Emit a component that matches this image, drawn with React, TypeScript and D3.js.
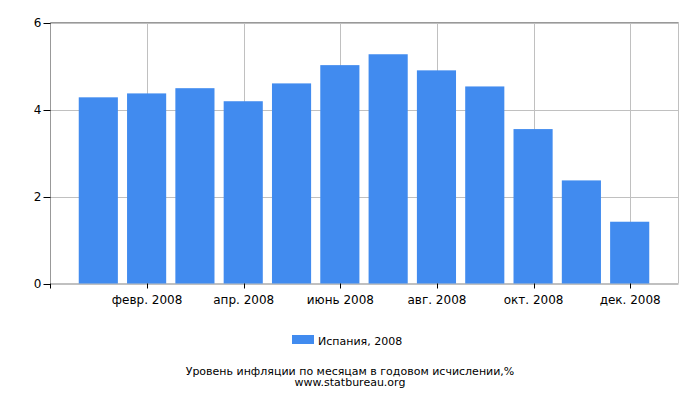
import React from "react";
import * as d3 from "d3";

const months = ["янв. 2008", "февр. 2008", "март 2008", "апр. 2008", "май 2008", "июнь 2008", "июль 2008", "авг. 2008", "сент. 2008", "окт. 2008", "нояб. 2008", "дек. 2008"];
const values = [4.28, 4.37, 4.49, 4.19, 4.6, 5.02, 5.27, 4.9, 4.53, 3.55, 2.37, 1.42];
const yTicks = [0, 2, 4, 6];
const labeledMonths = [1, 3, 5, 7, 9, 11];
const seriesName = "Испания, 2008";
const title = "Уровень инфляции по месяцам в годовом исчислении,%";
const source = "www.statbureau.org";

const W = 700, H = 400;
const left = 50.5, right = 678.5, top = 22.5, bottom = 283.5;
const font = "DejaVu Sans, sans-serif";

export default function App() {
  const x = d3.scaleLinear().domain([-1, 12]).range([left, right]);
  const y = d3.scaleLinear().domain([0, 6]).range([bottom, top]);
  const step = x(1) - x(0);
  const bw = step * 0.81;
  return (
    <svg width={W} height={H} style={{ position: "absolute", left: 0, top: 0 }}>
      <rect x={0} y={0} width={W} height={H} fill="#fff" />
      {yTicks.map((t) => (
        <line key={"gy" + t} x1={left} x2={right} y1={Math.round(y(t)) + 0.5} y2={Math.round(y(t)) + 0.5} stroke="#c0c0c0" strokeWidth={1} />
      ))}
      {labeledMonths.map((i) => (
        <line key={"gx" + i} x1={Math.round(x(i)) + 0.5} x2={Math.round(x(i)) + 0.5} y1={top} y2={bottom} stroke="#c0c0c0" strokeWidth={1} />
      ))}
      <line x1={right} x2={right} y1={top} y2={bottom} stroke="#c0c0c0" />
      <line x1={left} x2={right} y1={bottom} y2={bottom} stroke="#c0c0c0" />
      <line x1={left} x2={right} y1={top} y2={top} stroke="#999" />
      {values.map((v, i) => (
        <rect key={i} x={x(i) - bw / 2 - 0.5} y={y(v)} width={bw} height={y(0) - y(v)} fill="#418bef" />
      ))}
      <line x1={left} x2={left} y1={top} y2={bottom} stroke="#999" />
      {yTicks.map((t) => (
        <g key={"ty" + t}>
          <line x1={left - 7} x2={left} y1={Math.round(y(t)) + 0.5} y2={Math.round(y(t)) + 0.5} stroke="#000" />
          <text x={left - 9} y={y(t) + 4.5} textAnchor="end" fontFamily={font} fontSize={12} fill="#000">{t}</text>
        </g>
      ))}
      <line x1={left} x2={left} y1={bottom} y2={bottom + 5} stroke="#000" />
      {labeledMonths.map((i) => (
        <g key={"tx" + i}>
          <line x1={Math.round(x(i)) + 0.5} x2={Math.round(x(i)) + 0.5} y1={bottom} y2={bottom + 5} stroke="#000" />
          <text x={x(i)} y={304} textAnchor="middle" fontFamily={font} fontSize={12} fill="#000">{months[i]}</text>
        </g>
      ))}
      <rect x={292} y={335} width={22} height={9} fill="#418bef" />
      <text x={318} y={345} fontFamily={font} fontSize={11} fill="#000">{seriesName}</text>
      <text x={350} y={374.5} textAnchor="middle" fontFamily={font} fontSize={11} fill="#000">{title}</text>
      <text x={350} y={385.5} textAnchor="middle" fontFamily={font} fontSize={11} fill="#000">{source}</text>
    </svg>
  );
}
